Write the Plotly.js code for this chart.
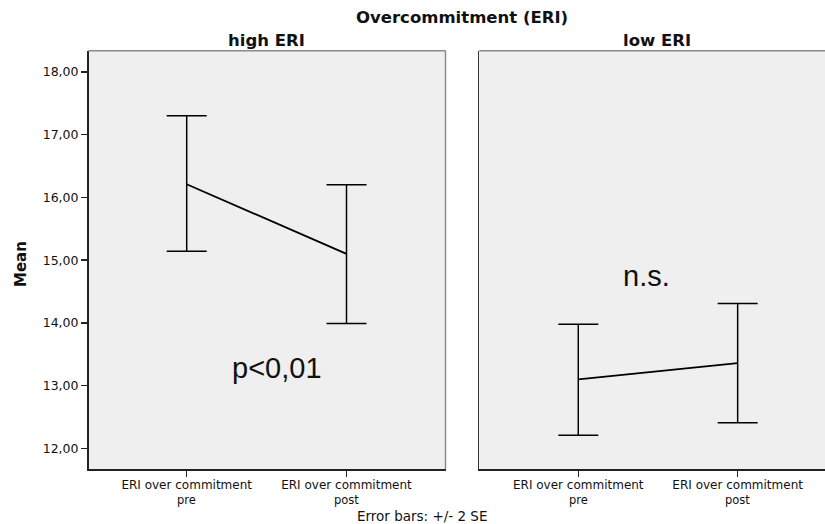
<!DOCTYPE html>
<html>
<head>
<meta charset="utf-8">
<script src="https://cdn.plot.ly/plotly-3.0.1.min.js"></script>
<style>html,body{margin:0;padding:0;background:#fff;}#chart{width:825px;height:524px;}</style>
</head>
<body>
<div id="chart"></div>
<script>
// ---- data ----
const categories = ["pre", "post"];
const categoryPrefix = "ERI over commitment";
const panels = ["high ERI", "low ERI"];
const highMean  = [16.21, 15.10];
const highUpper = [17.30, 16.20];
const highLower = [15.14, 13.99];
const lowMean   = [13.10, 13.36];
const lowUpper  = [13.98, 14.31];
const lowLower  = [12.21, 12.41];
const yTickVals = [12, 13, 14, 15, 16, 17, 18];
const yTickText = ["12,00", "13,00", "14,00", "15,00", "16,00", "17,00", "18,00"];
const pValueText = ["p&lt;0,01", "n.s."];

// ---- helpers ----
const W = 825, H = 524;
const px = x => x / W;
const py = y => 1 - y / H;
const FONT = "DejaVu Sans, Liberation Sans, Arial, sans-serif";
const ARIAL = "Liberation Sans, Arial, sans-serif";

function trace(means, upper, lower, xa, ya) {
  return {
    type: "scatter", mode: "lines",
    x: categories, y: means, xaxis: xa, yaxis: ya,
    line: {color: "#000", width: 1.8},
    error_y: {
      type: "data", symmetric: false,
      array: upper.map((u, i) => u - means[i]),
      arrayminus: means.map((m, i) => m - lower[i]),
      color: "#000", thickness: 1.5, width: 20
    },
    hoverinfo: "skip", showlegend: false
  };
}

const data = [
  trace(highMean, highUpper, highLower, "x", "y"),
  trace(lowMean, lowUpper, lowLower, "x2", "y2")
];

const yRange = [11.667, 18.338];
const yDomain = [py(469.3), py(50.7)];
const commonX = {
  type: "category", showgrid: false, zeroline: false,
  showline: true, linecolor: "#222", linewidth: 1.5,
  ticks: "outside", ticklen: 6, tickwidth: 1.5, tickcolor: "#222",
  ticklabelstandoff: -2,
  tickvals: categories, ticktext: categories.map(() => categoryPrefix),
  tickfont: {family: FONT, size: 12, color: "#111"}
};

const annotations = [
  {text: "<b>Overcommitment (ERI)</b>", xref: "paper", yref: "paper", x: px(462), y: py(17.5),
   xanchor: "center", yanchor: "middle", showarrow: false, font: {family: FONT, size: 16.5, color: "#111"}},
  {text: "<b>" + panels[0] + "</b>", xref: "paper", yref: "paper", x: px(266.5), y: py(41),
   xanchor: "center", yanchor: "middle", showarrow: false, font: {family: FONT, size: 16.5, color: "#111"}},
  {text: "<b>" + panels[1] + "</b>", xref: "paper", yref: "paper", x: px(657), y: py(41),
   xanchor: "center", yanchor: "middle", showarrow: false, font: {family: FONT, size: 16.5, color: "#111"}},
  {text: "<b>Mean</b>", xref: "paper", yref: "paper", x: px(21), y: py(264), textangle: -90,
   xanchor: "center", yanchor: "middle", showarrow: false, font: {family: FONT, size: 15, color: "#111"}},
  {text: "Error bars: +/- 2 SE", xref: "paper", yref: "paper", x: px(422), y: py(515.5),
   xanchor: "center", yanchor: "middle", showarrow: false, font: {family: FONT, size: 13.5, color: "#111"}},
  {text: pValueText[0], xref: "paper", yref: "paper", x: px(277), y: py(368),
   xanchor: "center", yanchor: "middle", showarrow: false, font: {family: ARIAL, size: 29, color: "#111"}},
  {text: pValueText[1], xref: "paper", yref: "paper", x: px(646.5), y: py(276),
   xanchor: "center", yanchor: "middle", showarrow: false, font: {family: ARIAL, size: 29, color: "#111"}}
];
// second line of category labels, placed at the category positions
["x", "x2"].forEach(xa => categories.forEach(c => annotations.push({
  text: c, xref: xa, yref: "paper", x: c, y: py(500),
  xanchor: "center", yanchor: "middle", showarrow: false, font: {family: FONT, size: 11.5, color: "#111"}
})));

const layout = {
  width: W, height: H,
  margin: {l: 0, r: 0, t: 0, b: 0},
  paper_bgcolor: "#fff", plot_bgcolor: "#efefef",
  showlegend: false,
  xaxis: Object.assign({}, commonX, {domain: [px(88.5), px(445.5)], range: [-0.6145, 1.6195], anchor: "y"}),
  xaxis2: Object.assign({}, commonX, {domain: [px(479.3), 1], range: [-0.621, 1.548], anchor: "y2"}),
  yaxis: {
    domain: yDomain, range: yRange, anchor: "x",
    showgrid: false, zeroline: false, showline: true, linecolor: "#222", linewidth: 1.5,
    ticks: "outside", ticklen: 6, tickwidth: 1.5, tickcolor: "#222",
    tickvals: yTickVals, ticktext: yTickText,
    tickfont: {family: FONT, size: 12.5, color: "#111"}
  },
  yaxis2: {
    domain: yDomain, range: yRange, anchor: "x2",
    showgrid: false, zeroline: false, showline: true, linecolor: "#333", linewidth: 1.5,
    ticks: "", showticklabels: false
  },
  shapes: [
    {type: "line", xref: "x domain", yref: "y domain", x0: 0, x1: 1, y0: 1, y1: 1, line: {color: "#8a8a8a", width: 1.5}},
    {type: "line", xref: "x domain", yref: "y domain", x0: 1, x1: 1, y0: 0, y1: 1, line: {color: "#8a8a8a", width: 1.5}},
    {type: "line", xref: "x2 domain", yref: "y2 domain", x0: 0, x1: 1, y0: 1, y1: 1, line: {color: "#8a8a8a", width: 1.5}}
  ],
  annotations: annotations
};

Plotly.newPlot("chart", data, layout, {displayModeBar: false, staticPlot: true});
</script>
</body>
</html>
